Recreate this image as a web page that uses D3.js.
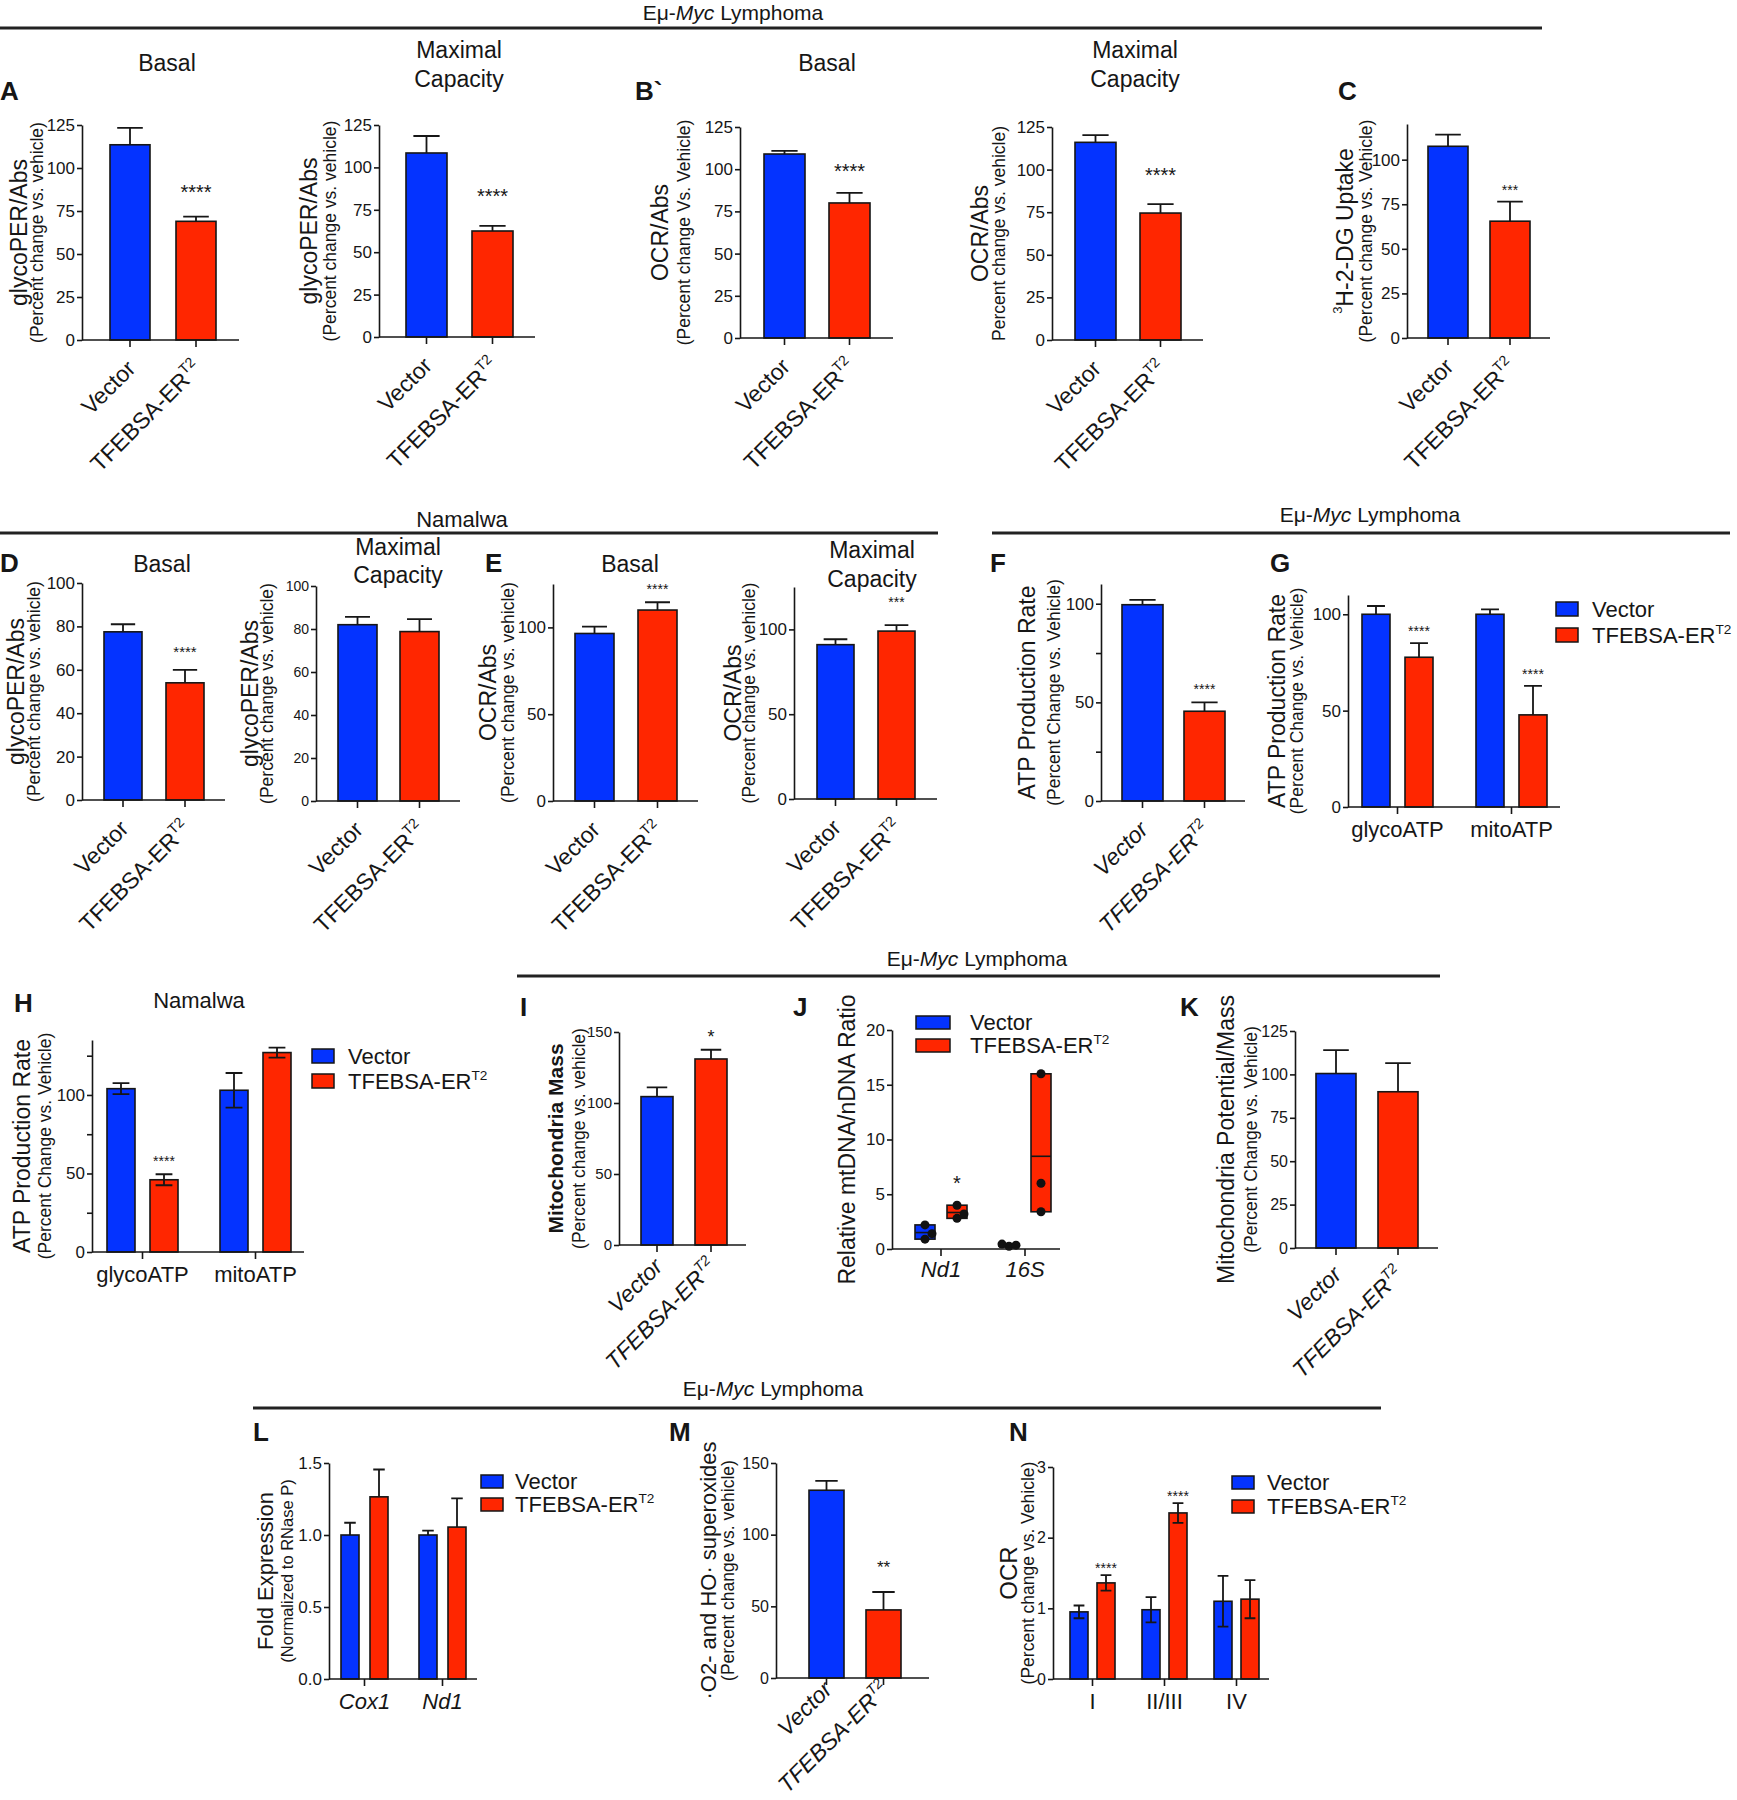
<!DOCTYPE html>
<html><head><meta charset="utf-8">
<script src="https://cdn.jsdelivr.net/npm/d3@7"></script>
<style>
body{margin:0;background:#fff}
svg text{font-family:'Liberation Sans',Arial,Helvetica,sans-serif;fill:#161616}
</style>
</head><body>
<svg id="chart" width="1737" height="1800"></svg>
<script>
// ================= DATA =================
const conditions = ["Vector", "TFEBSA-ER"];
const conditionSup = ["", "T2"];

// A – Eμ-Myc glycoPER/Abs
const aBasalMean = [113.5, 69],  aBasalErr = [9.8, 2.7],  aBasalStars = ["", "****"];
const aMaxMean   = [108.5, 62.5], aMaxErr  = [10, 3],     aMaxStars   = ["", "****"];
// B` – Eμ-Myc OCR/Abs
const bBasalMean = [109, 80],   bBasalErr = [1.8, 6],   bBasalStars = ["", "****"];
const bMaxMean   = [116, 74.5], bMaxErr   = [4.2, 5.2], bMaxStars   = ["", "****"];
// C – 3H-2-DG uptake
const cMean = [107.5, 65.5], cErr = [6.5, 11], cStars = ["", "***"];
// D – Namalwa glycoPER/Abs
const dBasalMean = [77.5, 54], dBasalErr = [3.5, 6],   dBasalStars = ["", "****"];
const dMaxMean   = [82, 78.8], dMaxErr   = [3.6, 5.8], dMaxStars   = ["", ""];
// E – Namalwa OCR/Abs
const eBasalMean = [96.5, 110], eBasalErr = [4, 4.5],   eBasalStars = ["", "****"];
const eMaxMean   = [91, 99],    eMaxErr   = [3.2, 3.5], eMaxStars   = ["", "***"];
// F – ATP production rate
const fMean = [99.5, 45.5], fErr = [2.5, 4.5], fStars = ["", "****"];
// G – glyco/mito ATP (Eμ-Myc)
const atpGroups = ["glycoATP", "mitoATP"];
const gVectorMean = [100, 100],   gVectorErr = [4.3, 2.5];
const gTfebMean   = [77.7, 47.8], gTfebErr   = [7.3, 15];
const gTfebStars  = ["****", "****"];
// H – glyco/mito ATP (Namalwa)
const hVectorMean = [104, 103], hVectorErr = [3.5, 11];
const hTfebMean   = [46, 127],  hTfebErr   = [3.5, 3.2];
const hTfebStars  = ["****", ""];
// I – mitochondria mass
const iMean = [104.5, 131], iErr = [6.5, 6.5], iStars = ["", "*"];
// J – mtDNA/nDNA ratio
const jGroups = ["Nd1", "16S"];
const jVectorPoints = [[0.9, 1.4, 2.2], [0.25, 0.35, 0.45]];
const jTfebPoints   = [[2.8, 3.2, 4.0], [3.4, 6.0, 16.0]];
const jTfebStars    = ["*", ""];
// K – potential/mass
const kMean = [100.5, 90], kErr = [13.5, 16.5], kStars = ["", ""];
// L – fold expression
const lGroups = ["Cox1", "Nd1"];
const lVectorMean = [1.0, 1.0],    lVectorErr = [0.085, 0.03];
const lTfebMean   = [1.265, 1.055], lTfebErr  = [0.19, 0.2];
// M – superoxides
const mMean = [131, 47.5], mErr = [6.5, 12.5], mStars = ["", "**"];
// N – complex OCR
const nGroups = ["I", "II/III", "IV"];
const nVectorMean = [0.95, 0.98, 1.1], nVectorErr = [0.09, 0.18, 0.36];
const nTfebMean   = [1.36, 2.35, 1.13], nTfebErr  = [0.11, 0.14, 0.27];
const nTfebStars  = ["****", "****", ""];

// tick values
const ticks0to125by25 = [0, 25, 50, 75, 100, 125];
const ticks0to100by25 = [0, 25, 50, 75, 100];
const ticks0to100by20 = [0, 20, 40, 60, 80, 100];
const ticks0to100by50 = [0, 50, 100];
const ticks0to125minor = [0, 25, 50, 75, 100, 125];
const ticks0to150by50 = [0, 50, 100, 150];
const ticks0to20by5 = [0, 5, 10, 15, 20];
const ticks0to1p5 = [0, 0.5, 1.0, 1.5];
const ticks0to3 = [0, 1, 2, 3];

// ================= STYLE / LAYOUT =================
const COLORS = ["#0433ff", "#ff2600"];
const INK = "#161616";
const svg = d3.select("#chart");

const LA1 = {ax:82,  y0:340, yTop:125, axEnd:239, off:28, bw:40, gap:26, max:125, lx:19,  sx:37,  starGap:29, starFs:20};
const LA2 = {ax:379, y0:337, yTop:125, axEnd:535, off:27, bw:41, gap:25, max:125, lx:309, sx:330, starGap:34, starFs:20};
const LB1 = {ax:740, y0:338, yTop:127, axEnd:893, off:24, bw:41, gap:24, max:125, lx:660, sx:684, starGap:26, starFs:20};
const LB2 = {ax:1052,y0:340, yTop:127, axEnd:1203,off:23, bw:41, gap:24, max:125, lx:980, sx:999, starGap:34, starFs:20};
const LC  = {ax:1407,y0:338, yTop:124, axEnd:1550,off:21, bw:40, gap:22, max:120, lx:1345,sx:1366,starGap:15, starFs:14};
const LD1 = {ax:82,  y0:800, yTop:583, axEnd:225, off:22, bw:38, gap:24, max:100, lx:16,  sx:34,  starGap:21, starFs:15};
const LD2 = {ax:316, y0:801, yTop:586, axEnd:460, off:22, bw:39, gap:23, max:100, lx:250, sx:267, starGap:21, starFs:15};
const LE1 = {ax:553, y0:801, yTop:584, axEnd:698, off:22, bw:39, gap:24, max:125, lx:488, sx:508, starGap:16, starFs:14};
const LE2 = {ax:794, y0:799, yTop:587, axEnd:937, off:23, bw:37, gap:24, max:125, lx:733, sx:749, starGap:26, starFs:14};
const LF  = {ax:1101,y0:801, yTop:584, axEnd:1245,off:21, bw:41, gap:21, max:110, lx:1027,sx:1054,starGap:16, starFs:14};
const LG  = {ax:1348,y0:807, yTop:595, axEnd:1560,off:14, bw:28, ig:15, gg:43, max:110, lx:1277, sx:1297, starGap:15, starFs:14};
const LH  = {ax:92,  y0:1252,yTop:1040,axEnd:304, off:15, bw:28, ig:15, gg:42, max:135, lx:22,  sx:45,  starGap:16, starFs:14};
const LI  = {ax:619, y0:1245,yTop:1032,axEnd:746, off:22, bw:32, gap:22, max:150, lx:555, sx:579, starGap:17, starFs:18, ly:23};
const LJ  = {ax:892, y0:1249,yTop:1030,axEnd:1060,off:23, bw:20, ig:12, gg:32, max:20, lx:847, starGap:27, starFs:20};
const LK  = {ax:1295,y0:1248,yTop:1031,axEnd:1438,off:21, bw:40, gap:22, max:125, lx:1226,sx:1251,starGap:16, starFs:14, ly:28};
const LL  = {ax:329, y0:1679,yTop:1463,axEnd:477, off:12, bw:18, ig:11, gg:31, max:1.5, lx:265, sx:287, starGap:10, starFs:14};
const LM  = {ax:776, y0:1678,yTop:1463,axEnd:929, off:33, bw:35, gap:22, max:150, lx:708, sx:728, starGap:29, starFs:17, ly:13};
const LN  = {ax:1053,y0:1679,yTop:1467,axEnd:1269,off:17, bw:18, ig:9,  gg:27, max:3,   lx:1008,sx:1028,starGap:10, starFs:14};

// ================= HELPERS =================
function txt(parent, x, y, s, o = {}) {
  const t = parent.append("text").attr("x", x).attr("y", y)
    .attr("font-size", o.fs || 22).attr("text-anchor", o.anchor || "middle");
  if (o.bold) t.attr("font-weight", "bold");
  if (o.italic) t.attr("font-style", "italic");
  if (s != null) t.text(s);
  return t;
}
function header(x, y) {
  const t = txt(svg, x, y, null, {fs: 21});
  t.append("tspan").text("Eμ-");
  t.append("tspan").attr("font-style", "italic").text("Myc");
  t.append("tspan").text(" Lymphoma");
}
function rule(x1, x2, y) {
  svg.append("line").attr("x1", x1).attr("x2", x2).attr("y1", y).attr("y2", y)
    .attr("stroke", "#222").attr("stroke-width", 3);
}
function supLabel(t, i, fs) {
  t.append("tspan").text(conditions[i]);
  if (conditionSup[i]) t.append("tspan").attr("font-size", fs * 0.62).attr("dy", -fs * 0.42).text(conditionSup[i]);
}
function yAxis(g, y, L, ticks, fmt, fs) {
  const a = g.append("g").attr("transform", `translate(${L.ax},0)`)
    .call(d3.axisLeft(y).tickValues(ticks).tickSize(5).tickSizeOuter(0).tickPadding(2).tickFormat(fmt));
  a.attr("font-family", null).attr("font-size", null);
  a.select(".domain").attr("stroke", INK).attr("stroke-width", 1.6);
  a.selectAll(".tick line").attr("stroke", INK).attr("stroke-width", 1.6);
  a.selectAll(".tick text").attr("font-size", fs).attr("fill", INK);
}
function xBase(g, L, centers) {
  g.append("line").attr("x1", L.ax).attr("x2", L.axEnd).attr("y1", L.y0).attr("y2", L.y0)
    .attr("stroke", INK).attr("stroke-width", 1.6);
  g.selectAll(null).data(centers).join("line")
    .attr("x1", d => d).attr("x2", d => d).attr("y1", L.y0).attr("y2", L.y0 + 7)
    .attr("stroke", INK).attr("stroke-width", 1.6);
}
function yLabels(g, L, main, sub, o = {}) {
  const cy = (L.y0 + L.yTop) / 2 + (o.dy || 0);
  if (main) {
    const t = g.append("text").attr("transform", `translate(${L.lx},${cy}) rotate(-90)`)
      .attr("text-anchor", "middle").attr("dominant-baseline", "central")
      .attr("font-size", o.mfs || 23);
    if (o.bold) t.attr("font-weight", "bold");
    if (typeof main === "function") main(t); else t.text(main);
  }
  if (sub) {
    g.append("text").attr("transform", `translate(${L.sx},${cy}) rotate(-90)`)
      .attr("text-anchor", "middle").attr("dominant-baseline", "central")
      .attr("font-size", o.sfs || 17.5).text(sub);
  }
}
function stars(g, L, x, yTopVal, s) {
  if (!s) return;
  txt(g, x, yTopVal - L.starGap + 0.57 * L.starFs, s, {fs: L.starFs});
}
function errBar(g, cx, yBase, yUp, yDown, half) {
  let d = `M${cx},${yBase}V${yUp}M${cx - half},${yUp}H${cx + half}`;
  if (yDown != null) d += `M${cx},${yBase}V${yDown}M${cx - half},${yDown}H${cx + half}`;
  g.append("path").attr("d", d).attr("fill", "none").attr("stroke", INK).attr("stroke-width", 1.8);
}

// two-bar panel
function barPanel(L, mean, err, st, ticks, fmt, tfs, o = {}) {
  const g = svg.append("g");
  const y = d3.scaleLinear().domain([0, L.max]).range([L.y0, L.yTop]);
  const x = d3.scaleBand().domain(conditions)
    .range([L.ax + L.off, L.ax + L.off + 2 * L.bw + L.gap])
    .paddingInner(L.gap / (L.bw + L.gap)).paddingOuter(0);
  const rows = conditions.map((c, i) => ({c, i, m: mean[i], e: err[i], s: st[i]}));
  g.selectAll(null).data(rows).join("rect")
    .attr("x", d => x(d.c)).attr("width", x.bandwidth())
    .attr("y", d => y(d.m)).attr("height", d => y(0) - y(d.m))
    .attr("fill", d => COLORS[d.i]).attr("stroke", INK).attr("stroke-width", 1.6);
  rows.forEach(d => {
    const cx = x(d.c) + x.bandwidth() / 2;
    errBar(g, cx, y(d.m), y(d.m + d.e), null, x.bandwidth() * 0.32);
    stars(g, L, cx, y(d.m + d.e), d.s);
  });
  yAxis(g, y, L, ticks, fmt, tfs);
  const centers = rows.map(d => x(d.c) + x.bandwidth() / 2);
  xBase(g, L, centers);
  const ly = L.ly != null ? L.ly : 30;
  rows.forEach((d, i) => {
    const t = g.append("text").attr("transform", `translate(${centers[i] + 7},${L.y0 + ly}) rotate(-45)`)
      .attr("text-anchor", "end").attr("font-size", 23);
    if (o.italic) t.attr("font-style", "italic");
    supLabel(t, i, 23);
  });
  return g;
}

// grouped panel
function groupPanel(L, groups, vM, vE, tM, tE, st, ticks, fmt, tfs, o = {}) {
  const g = svg.append("g");
  const y = d3.scaleLinear().domain([0, L.max]).range([L.y0, L.yTop]);
  const gw = 2 * L.bw + L.ig;
  const n = groups.length;
  const x0 = d3.scaleBand().domain(groups)
    .range([L.ax + L.off, L.ax + L.off + n * gw + (n - 1) * L.gg])
    .paddingInner(L.gg / (gw + L.gg)).paddingOuter(0);
  const x1 = d3.scaleBand().domain(conditions).range([0, x0.bandwidth()])
    .paddingInner(L.ig / (L.bw + L.ig)).paddingOuter(0);
  const rows = [];
  groups.forEach((gr, j) => {
    rows.push({gr, i: 0, m: vM[j], e: vE[j], s: ""});
    rows.push({gr, i: 1, m: tM[j], e: tE[j], s: st[j]});
  });
  g.selectAll(null).data(rows).join("rect")
    .attr("x", d => x0(d.gr) + x1(conditions[d.i])).attr("width", x1.bandwidth())
    .attr("y", d => y(d.m)).attr("height", d => y(0) - y(d.m))
    .attr("fill", d => COLORS[d.i]).attr("stroke", INK).attr("stroke-width", 1.6);
  rows.forEach(d => {
    const cx = x0(d.gr) + x1(conditions[d.i]) + x1.bandwidth() / 2;
    errBar(g, cx, y(d.m), y(d.m + d.e), o.both ? y(d.m - d.e) : null, x1.bandwidth() * (o.both ? 0.3 : 0.32));
    stars(g, L, cx, y(d.m + d.e), d.s);
  });
  yAxis(g, y, L, ticks, fmt, tfs);
  const centers = groups.map(gr => x0(gr) + x0.bandwidth() / 2);
  xBase(g, L, centers);
  groups.forEach((gr, j) => txt(g, centers[j], L.y0 + 30, gr, {fs: o.cfs || 22, italic: o.italic}));
  return g;
}

function legend(x, y, o) {
  const g = svg.append("g");
  conditions.forEach((c, i) => {
    const yy = y + i * o.step;
    g.append("rect").attr("x", x).attr("y", yy - o.rh).attr("width", o.rw).attr("height", o.rh)
      .attr("fill", COLORS[i]).attr("stroke", INK).attr("stroke-width", 1.5);
    const t = g.append("text").attr("x", x + o.tx).attr("y", yy + 1).attr("font-size", o.fs);
    supLabel(t, i, o.fs);
  });
}

// ================= HEADERS / RULES =================
header(733, 20);            rule(0, 1542, 28);
txt(svg, 462, 527, "Namalwa", {fs: 22}); rule(0, 938, 533);
header(1370, 522);          rule(992, 1730, 533);
header(977, 966);           rule(517, 1440, 976);
header(773, 1396);          rule(253, 1381, 1408);

// panel letters
[["A",0,100],["B`",635,100],["C",1338,100],["D",0,572],["E",485,572],["F",990,572],["G",1270,572],
 ["H",14,1012],["I",520,1016],["J",793,1016],["K",1180,1016],["L",253,1441],["M",669,1441],["N",1009,1441]]
 .forEach(([s, x, y]) => txt(svg, x, y, s, {fs: 26, bold: true, anchor: "start"}));

// titles
txt(svg, 167, 71, "Basal", {fs: 23});
txt(svg, 459, 58, "Maximal", {fs: 23}); txt(svg, 459, 87, "Capacity", {fs: 23});
txt(svg, 827, 71, "Basal", {fs: 23});
txt(svg, 1135, 58, "Maximal", {fs: 23}); txt(svg, 1135, 87, "Capacity", {fs: 23});
txt(svg, 162, 572, "Basal", {fs: 23});
txt(svg, 398, 555, "Maximal", {fs: 23}); txt(svg, 398, 583, "Capacity", {fs: 23});
txt(svg, 630, 572, "Basal", {fs: 23});
txt(svg, 872, 558, "Maximal", {fs: 23}); txt(svg, 872, 587, "Capacity", {fs: 23});
txt(svg, 199, 1008, "Namalwa", {fs: 22});

const fmtInt = d3.format("d");
const fmtMajor50 = d => (d % 50 === 0 ? d : "");

// ================= PANELS =================
let g;
g = barPanel(LA1, aBasalMean, aBasalErr, aBasalStars, ticks0to125by25, fmtInt, 17);
yLabels(g, LA1, "glycoPER/Abs", "(Percent change vs. vehicle)");
g = barPanel(LA2, aMaxMean, aMaxErr, aMaxStars, ticks0to125by25, fmtInt, 17);
yLabels(g, LA2, "glycoPER/Abs", "(Percent change vs. vehicle)");
g = barPanel(LB1, bBasalMean, bBasalErr, bBasalStars, ticks0to125by25, fmtInt, 17);
yLabels(g, LB1, "OCR/Abs", "(Percent change Vs. Vehicle)");
g = barPanel(LB2, bMaxMean, bMaxErr, bMaxStars, ticks0to125by25, fmtInt, 17);
yLabels(g, LB2, "OCR/Abs", "Percent change vs. vehicle)");
g = barPanel(LC, cMean, cErr, cStars, ticks0to100by25, fmtInt, 17);
yLabels(g, LC, t => {
  t.append("tspan").attr("font-size", 13).attr("dy", -8).text("3");
  t.append("tspan").attr("dy", 8).text("H-2-DG Uptake");
}, "(Percent change vs. Vehicle)");

g = barPanel(LD1, dBasalMean, dBasalErr, dBasalStars, ticks0to100by20, fmtInt, 17);
yLabels(g, LD1, "glycoPER/Abs", "(Percent change vs. vehicle)");
g = barPanel(LD2, dMaxMean, dMaxErr, dMaxStars, ticks0to100by20, fmtInt, 14);
yLabels(g, LD2, "glycoPER/Abs", "(Percent change vs. vehicle)");
g = barPanel(LE1, eBasalMean, eBasalErr, eBasalStars, ticks0to100by50, fmtInt, 17);
yLabels(g, LE1, "OCR/Abs", "(Percent change vs. vehicle)");
g = barPanel(LE2, eMaxMean, eMaxErr, eMaxStars, ticks0to100by50, fmtInt, 17);
yLabels(g, LE2, "OCR/Abs", "(Percent change vs. vehicle)");
g = barPanel(LF, fMean, fErr, fStars, ticks0to100by25, fmtMajor50, 17, {italic: true});
yLabels(g, LF, "ATP Production Rate", "(Percent Change vs. Vehicle)");
g = groupPanel(LG, atpGroups, gVectorMean, gVectorErr, gTfebMean, gTfebErr, gTfebStars, ticks0to100by50, fmtInt, 17);
yLabels(g, LG, "ATP Production Rate", "(Percent Change vs. Vehicle)");
legend(1556, 616, {step: 26, rw: 22, rh: 14, tx: 36, fs: 22});

g = groupPanel(LH, atpGroups, hVectorMean, hVectorErr, hTfebMean, hTfebErr, hTfebStars, ticks0to125minor, fmtMajor50, 17, {both: true});
yLabels(g, LH, "ATP Production Rate", "(Percent Change vs. Vehicle)");
legend(312, 1063, {step: 25, rw: 22, rh: 14, tx: 36, fs: 22});

g = barPanel(LI, iMean, iErr, iStars, ticks0to150by50, fmtInt, 15, {italic: true});
yLabels(g, LI, "Mitochondria Mass", "(Percent change vs. vehicle)", {bold: true, mfs: 21});

// J floating bars (min–max with mean line and points)
(function () {
  const L = LJ;
  const gj = svg.append("g");
  const y = d3.scaleLinear().domain([0, L.max]).range([L.y0, L.yTop]);
  const gw = 2 * L.bw + L.ig;
  const x0 = d3.scaleBand().domain(jGroups)
    .range([L.ax + L.off, L.ax + L.off + 2 * gw + L.gg])
    .paddingInner(L.gg / (gw + L.gg)).paddingOuter(0);
  const x1 = d3.scaleBand().domain(conditions).range([0, x0.bandwidth()])
    .paddingInner(L.ig / (L.bw + L.ig)).paddingOuter(0);
  const sets = [];
  jGroups.forEach((gr, j) => {
    sets.push({gr, i: 0, pts: jVectorPoints[j], s: ""});
    sets.push({gr, i: 1, pts: jTfebPoints[j], s: jTfebStars[j]});
  });
  sets.forEach(d => {
    const bx = x0(d.gr) + x1(conditions[d.i]);
    const lo = d3.min(d.pts), hi = d3.max(d.pts), mu = d3.mean(d.pts);
    gj.append("rect").attr("x", bx).attr("width", x1.bandwidth())
      .attr("y", y(hi)).attr("height", Math.max(1, y(lo) - y(hi)))
      .attr("fill", COLORS[d.i]).attr("stroke", INK).attr("stroke-width", 1.6);
    gj.append("line").attr("x1", bx).attr("x2", bx + x1.bandwidth()).attr("y1", y(mu)).attr("y2", y(mu))
      .attr("stroke", INK).attr("stroke-width", 1.6);
    const cx = bx + x1.bandwidth() / 2;
    const placed = [];
    const cand = [0, 7, -7, 14, -14];
    d.pts.forEach(v => {
      const py = y(v);
      let dx = 0;
      for (const c of cand) {
        if (placed.every(p => Math.hypot(p[0] - c, p[1] - py) >= 7)) { dx = c; break; }
      }
      placed.push([dx, py]);
      gj.append("circle").attr("cx", cx + dx).attr("cy", py).attr("r", 4.5).attr("fill", "#111");
    });
    stars(gj, L, cx, y(hi), d.s);
  });
  yAxis(gj, y, L, ticks0to20by5, fmtInt, 17);
  const centers = jGroups.map(gr => x0(gr) + x0.bandwidth() / 2);
  xBase(gj, L, centers);
  jGroups.forEach((gr, j) => txt(gj, centers[j], L.y0 + 28, gr, {fs: 22, italic: true}));
  yLabels(gj, L, "Relative mtDNA/nDNA Ratio", null);
})();
legend(916, 1029, {step: 23, rw: 34, rh: 13, tx: 54, fs: 22});

g = barPanel(LK, kMean, kErr, kStars, ticks0to125by25, fmtInt, 16, {italic: true});
yLabels(g, LK, "Mitochondria Potential/Mass", "(Percent Change vs. Vehicle)");

g = groupPanel(LL, lGroups, lVectorMean, lVectorErr, lTfebMean, lTfebErr, ["", ""], ticks0to1p5, d3.format(".1f"), 17, {italic: true, cfs: 22});
yLabels(g, LL, "Fold Expression", "(Normalized to RNase P)", {sfs: 16.5, mfs: 22});
legend(481, 1488, {step: 23, rw: 22, rh: 13, tx: 34, fs: 22});

g = barPanel(LM, mMean, mErr, mStars, ticks0to150by50, fmtInt, 16, {italic: true});
yLabels(g, LM, "·O2- and HO· superoxides", "(Percent change vs. vehicle)", {mfs: 22});

g = groupPanel(LN, nGroups, nVectorMean, nVectorErr, nTfebMean, nTfebErr, nTfebStars, ticks0to3, fmtInt, 16, {both: true});
yLabels(g, LN, "OCR", "(Percent change vs. Vehicle)", {mfs: 24});
legend(1232, 1489, {step: 24, rw: 22, rh: 13, tx: 35, fs: 22});
</script>
</body></html>
